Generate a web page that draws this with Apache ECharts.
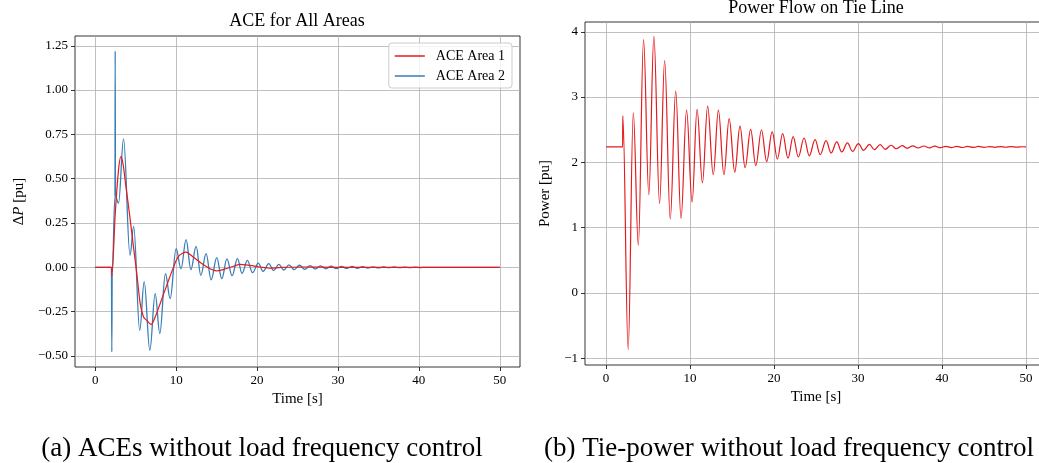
<!DOCTYPE html>
<html>
<head>
<meta charset="utf-8">
<title>ACE and tie-line power</title>
<script src="https://cdn.jsdelivr.net/npm/echarts@6/dist/echarts.min.js"></script>
<style>
html,body{margin:0;padding:0;background:#fff;}
#main{width:1039px;height:463px;}
</style>
</head>
<body>
<div id="main"></div>
<script>
// ACE Area 1 (red) - time [s] / value [pu]
const ace1Time = [0, 2.0, 2.06, 2.47, 2.88, 3.17, 3.45, 3.7, 4.24, 4.73, 5.14, 5.56, 5.97, 6.38, 6.9, 7.41, 8.02, 8.85, 9.67, 10.3, 11.23, 12.1, 13.2, 14.2, 15.0, 15.8, 17.1, 17.9, 19.1, 20.4, 21.6, 23, 26, 30, 50]
const ace1 = [0, 0, -0.045, 0.30, 0.55, 0.625, 0.58, 0.49, 0.30, 0.114, -0.036, -0.205, -0.28, -0.30, -0.322, -0.28, -0.205, -0.10, 0, 0.062, 0.086, 0.058, 0.02, -0.008, -0.02, -0.013, 0.006, 0.017, 0.011, 0.002, -0.005, 0, 0.002, 0, 0]

// ACE Area 2 (blue) - peaks and valleys
const ace2Time = [0, 2.0, 2.05, 2.1, 2.44, 2.47, 2.5, 2.88, 3.5, 4.3, 4.75, 5.5, 6.05, 6.75, 7.41, 7.98, 8.68, 9.26, 10.0, 10.6, 11.23, 11.82, 12.47, 13.05, 13.7, 14.33, 15.02, 15.64, 16.28, 16.92, 17.58, 18.15, 18.8, 19.45, 20.15, 20.75, 21.45, 22.05, 22.7, 23.3, 23.95, 24.6, 25.25, 25.9, 26.55, 27.2, 27.85, 28.5, 29.15, 29.8, 30.45, 31.1, 31.75, 32.4, 33.05, 33.7, 34.35, 35.0, 35.65, 36.3, 36.95, 37.6, 38.25, 38.9, 39.55, 40.2, 41, 50]
const ace2 = [0, 0, -0.477, -0.03, 0.40, 1.22, 0.40, 0.362, 0.725, 0.068, 0.231, -0.355, -0.08, -0.467, -0.148, -0.373, -0.036, -0.176, 0.105, -0.008, 0.156, -0.013, 0.118, -0.045, 0.077, -0.07, 0.055, -0.064, 0.048, -0.047, 0.049, -0.034, 0.039, -0.03, 0.024, -0.022, 0.021, -0.018, 0.017, -0.015, 0.014, -0.013, 0.012, -0.011, 0.01, -0.009, 0.008, -0.008, 0.007, -0.007, 0.006, -0.006, 0.005, -0.005, 0.004, -0.004, 0.003, -0.003, 0.003, -0.002, 0.002, -0.002, 0.0015, -0.0015, 0.001, -0.001, 0, 0]

// tie-line power (red)
const tieTime = [0, 1.98, 2.0, 2.64, 3.25, 3.85, 4.47, 5.1, 5.70, 6.38, 6.98, 7.65, 8.3, 8.93, 9.59, 10.25, 10.84, 11.48, 12.1, 12.77, 13.38, 14.04, 14.66, 15.33, 15.95, 16.56, 17.22, 17.83, 18.51, 19.13, 19.78, 20.4, 21.03, 21.67, 22.28, 22.9, 23.58, 24.2, 24.89, 25.5, 26.2, 26.8, 27.47, 28.07, 28.74, 29.35, 30.05, 30.65, 31.36, 31.95, 32.64, 33.24, 33.95, 34.55, 35.27, 35.85, 36.54, 37.14, 37.85, 38.5, 39.15, 39.8, 40.45, 41.1, 41.75, 42.4, 43.05, 43.7, 44.35, 45.0, 45.65, 46.3, 46.95, 47.6, 48.25, 48.9, 49.55, 50]
const tie = [2.236, 2.236, 2.715, -0.868, 2.76, 0.73, 3.879, 1.505, 3.93, 1.37, 3.56, 1.133, 3.09, 1.14, 2.80, 1.39, 2.81, 1.684, 2.86, 1.81, 2.80, 1.81, 2.67, 1.85, 2.555, 1.92, 2.505, 1.95, 2.495, 2.01, 2.472, 2.052, 2.44, 2.065, 2.395, 2.083, 2.373, 2.10, 2.347, 2.118, 2.332, 2.144, 2.312, 2.159, 2.297, 2.168, 2.286, 2.184, 2.276, 2.194, 2.27, 2.20, 2.262, 2.208, 2.255, 2.215, 2.252, 2.22, 2.25, 2.222, 2.248, 2.224, 2.246, 2.226, 2.245, 2.227, 2.244, 2.228, 2.243, 2.229, 2.242, 2.23, 2.241, 2.231, 2.24, 2.232, 2.239, 2.236]

const timeTicks = [0, 10, 20, 30, 40, 50]
const aceTicks = [-0.5, -0.25, 0, 0.25, 0.5, 0.75, 1.0, 1.25]
const tieTicks = [-1, 0, 1, 2, 3, 4]

const FONT = 'Liberation Serif'
const RED = '#e41a1c'
const BLUE = '#377eb8'

const zip = (t, v) => t.map((x, i) => [x, v[i]])
const minus = s => String(s).replace('-', '\u2212')

const chart = echarts.init(document.getElementById('main'))

function xAxisOf(gi) {
    return {
        type: 'value', gridIndex: gi, min: -2.5, max: 52.5,
        name: 'Time [s]', nameLocation: 'middle', nameGap: 24,
        nameTextStyle: {fontFamily: FONT, fontSize: 15, color: '#000'},
        axisLine: {show: false, onZero: false},
        axisTick: {show: true, length: 4, customValues: timeTicks, lineStyle: {color: '#000', width: 0.8}},
        axisLabel: {customValues: timeTicks, margin: 7, fontFamily: FONT, fontSize: 13, color: '#000'},
        splitLine: {show: true, lineStyle: {color: '#b0b0b0', width: 0.8}}
    }
}

function yAxisOf(gi, min, max, ticks, fmt, name, gap) {
    return {
        type: 'value', gridIndex: gi, min: min, max: max,
        name: name, nameLocation: 'middle', nameGap: gap,
        nameTextStyle: {fontFamily: FONT, fontSize: 15, color: '#000',
            rich: {i: {fontFamily: FONT, fontSize: 15, fontStyle: 'italic', color: '#000'}}},
        axisLine: {show: false, onZero: false},
        axisTick: {show: true, length: 4, customValues: ticks, lineStyle: {color: '#000', width: 0.8}},
        axisLabel: {customValues: ticks, margin: 7, fontFamily: FONT, fontSize: 13, color: '#000', formatter: fmt},
        splitLine: {show: true, lineStyle: {color: '#b0b0b0', width: 0.8}}
    }
}

const option = {
    animation: false,
    backgroundColor: '#fff',
    grid: [
        {left: 75, top: 36, width: 445, height: 331, show: true, borderColor: '#000', borderWidth: 0.8,
            containLabel: false, outerBoundsMode: 'none'},
        {left: 585, top: 22, width: 462, height: 343, show: true, borderColor: '#000', borderWidth: 0.8,
            containLabel: false, outerBoundsMode: 'none'}
    ],
    xAxis: [xAxisOf(0), xAxisOf(1)],
    yAxis: [
        yAxisOf(0, -0.562, 1.305, aceTicks, v => minus(v.toFixed(2)), '\u0394{i|P} [pu]', 48),
        yAxisOf(1, -1.105, 4.15, tieTicks, v => minus(v), 'Power [pu]', 32)
    ],
    legend: {
        orient: 'vertical', right: 527, top: 43,
        data: ['ACE Area 1', 'ACE Area 2'],
        icon: 'rect', itemWidth: 30, itemHeight: 1.5, itemGap: 6,
        padding: [6, 7, 5, 6],
        borderColor: '#cccccc', borderWidth: 1, borderRadius: 3,
        backgroundColor: 'rgba(255,255,255,0.8)',
        textStyle: {fontFamily: FONT, fontSize: 14, color: '#000', padding: [0, 0, 0, 6]}
    },
    graphic: [
        {type: 'text', position: [297, 12], style: {text: 'ACE for All Areas', fontFamily: FONT, fontSize: 18, fill: '#000', textAlign: 'center', textVerticalAlign: 'top'}},
        {type: 'text', position: [816, -1], style: {text: 'Power Flow on Tie Line', fontFamily: FONT, fontSize: 18, fill: '#000', textAlign: 'center', textVerticalAlign: 'top'}},
        {type: 'text', position: [262, 435], style: {text: '(a) ACEs without load frequency control', fontFamily: FONT, fontSize: 27, fill: '#000', textAlign: 'center', textVerticalAlign: 'top'}},
        {type: 'text', position: [789, 435], style: {text: '(b) Tie-power without load frequency control', fontFamily: FONT, fontSize: 27, fill: '#000', textAlign: 'center', textVerticalAlign: 'top'}}
    ],
    series: [
        {name: 'ACE Area 1', type: 'line', xAxisIndex: 0, yAxisIndex: 0, data: zip(ace1Time, ace1),
            symbol: 'none', smooth: 0.3, lineStyle: {color: RED, width: 1.2}, itemStyle: {color: RED}, z: 3},
        {name: 'ACE Area 2', type: 'line', xAxisIndex: 0, yAxisIndex: 0, data: zip(ace2Time, ace2),
            symbol: 'none', smooth: 0.38, smoothMonotone: 'x', lineStyle: {color: BLUE, width: 1.3}, itemStyle: {color: BLUE}, z: 2},
        {name: 'Tie power', type: 'line', xAxisIndex: 1, yAxisIndex: 1, data: zip(tieTime, tie),
            symbol: 'none', smooth: 0.38, smoothMonotone: 'x', lineStyle: {color: RED, width: 1.2}, itemStyle: {color: RED}}
    ]
}

chart.setOption(option)
</script>
</body>
</html>
